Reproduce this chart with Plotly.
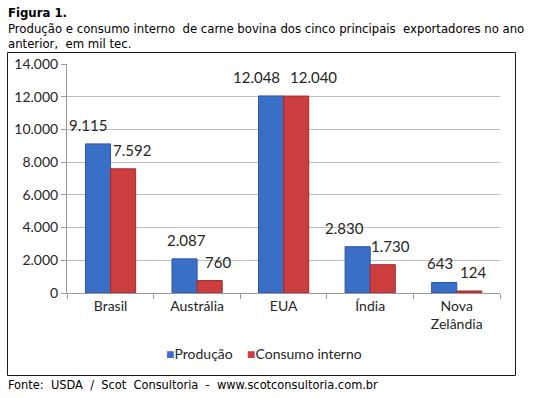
import plotly.graph_objects as go

categories = ["Brasil", "Austrália", "EUA", "Índia", "Nova<br>Zelândia"]
producao = [9115, 2087, 12048, 2830, 643]
consumo = [7592, 760, 12040, 1730, 124]
series_names = ["Produção", "Consumo interno"]
series_colors = ["#3a6fc7", "#cc3d3d"]
y_ticks = [0, 2000, 4000, 6000, 8000, 10000, 12000, 14000]

# horizontal nudges of the value labels (styling, in pixels)
label_dx_prod = [-10, 2, -15, -13, -4]
label_dx_cons = [9, 8, 17, 8, 4]


def fmt(v):
    return f"{v:,}".replace(",", ".")


W, H = 540, 398
L, R, T, B = 67, 500, 64, 293
pw, ph = R - L, B - T


def px_x(x):
    return (x - L) / pw


def px_y(y):
    return (B - y) / ph


lbl_font = dict(family="Lato, Carlito, sans-serif", size=14, color="#262626")
val_font = dict(family="Lato, sans-serif", size=15, color="#262626")

fig = go.Figure()
fig.add_trace(go.Bar(
    x=categories, y=producao, name=series_names[0], offsetgroup="p",
    marker=dict(color=series_colors[0], line=dict(color="#2b54a3", width=1)),
))
fig.add_trace(go.Bar(
    x=categories, y=consumo, name=series_names[1], offsetgroup="c",
    marker=dict(color=series_colors[1], line=dict(color="#a02c2c", width=1)),
))

fig.update_layout(
    width=W, height=H,
    margin=dict(l=L, r=W - R, t=T, b=H - B, pad=0),
    paper_bgcolor="white", plot_bgcolor="white",
    barmode="group", bargap=0.42, bargroupgap=0,
    separators=",.",
    showlegend=False,
    xaxis=dict(showline=True, linecolor="#9a9a9a", linewidth=1,
               ticks="outside", ticklen=5, tickcolor="#9a9a9a",
               tickson="boundaries", tickfont=lbl_font, showgrid=False),
    yaxis=dict(range=[0, 14000], tickvals=y_ticks,
               ticktext=[fmt(v) for v in y_ticks],
               showline=True, linecolor="#9a9a9a", linewidth=1,
               ticks="outside", ticklen=5, tickcolor="#9a9a9a",
               showgrid=True, gridcolor="#bfbfbf", gridwidth=1,
               zeroline=False, tickfont=lbl_font),
    font=dict(family="Lato, sans-serif"),
)

# Value labels, placed through the axes' scales (bar centre +/- half bar width)
cat_w = pw / len(categories)
bar_w = cat_w * (1 - 0.42) / 2
for i, cat in enumerate(categories):
    fig.add_annotation(x=cat, y=producao[i], xref="x", yref="y",
                       text=fmt(producao[i]), showarrow=False,
                       xanchor="center", yanchor="bottom",
                       xshift=-bar_w / 2 + label_dx_prod[i], yshift=8,
                       font=val_font)
    fig.add_annotation(x=cat, y=consumo[i], xref="x", yref="y",
                       text=fmt(consumo[i]), showarrow=False,
                       xanchor="center", yanchor="bottom",
                       xshift=bar_w / 2 + label_dx_cons[i], yshift=8,
                       font=val_font)

# Legend (compact, as in the reference)
legend_text = (f"<span style='color:{series_colors[0]}'>■</span>{series_names[0]}"
               f"&nbsp;&nbsp;&nbsp;&nbsp;"
               f"<span style='color:{series_colors[1]}'>■</span>{series_names[1]}")
fig.add_annotation(text=legend_text, xref="paper", yref="paper",
                   x=px_x(264), y=px_y(353), xanchor="center", yanchor="middle",
                   showarrow=False, font=lbl_font)

# Chart border box
fig.add_shape(type="rect", xref="paper", yref="paper",
              x0=px_x(7.5), x1=px_x(515.5), y0=px_y(375.5), y1=px_y(52.5),
              line=dict(color="#1a1a1a", width=1), fillcolor="rgba(0,0,0,0)",
              layer="below")

head_font = "Tahoma, 'DejaVu Sans Condensed', 'DejaVu Sans', sans-serif"
hsize = 13.0
fig.add_annotation(text="<b>Figura 1.</b>", xref="paper", yref="paper",
                   x=px_x(6), y=px_y(3), xanchor="left", yanchor="top",
                   showarrow=False, font=dict(family=head_font, size=hsize, color="#000"))
fig.add_annotation(text="Produção e consumo interno  de carne bovina dos cinco principais  exportadores no ano",
                   xref="paper", yref="paper",
                   x=px_x(6), y=px_y(19), xanchor="left", yanchor="top",
                   showarrow=False, font=dict(family=head_font, size=hsize, color="#000"))
fig.add_annotation(text="anterior,  em mil tec.",
                   xref="paper", yref="paper",
                   x=px_x(6), y=px_y(34), xanchor="left", yanchor="top",
                   showarrow=False, font=dict(family=head_font, size=hsize, color="#000"))
fig.add_annotation(text="Fonte:  USDA  /  Scot  Consultoria  -  www.scotconsultoria.com.br",
                   xref="paper", yref="paper",
                   x=px_x(6), y=px_y(375), xanchor="left", yanchor="top",
                   showarrow=False, font=dict(family=head_font, size=12.7, color="#000"))

fig.write_html("out.html",
               config={"displayModeBar": False},
               post_script="document.body.style.margin='0';document.body.style.overflow='hidden';")
